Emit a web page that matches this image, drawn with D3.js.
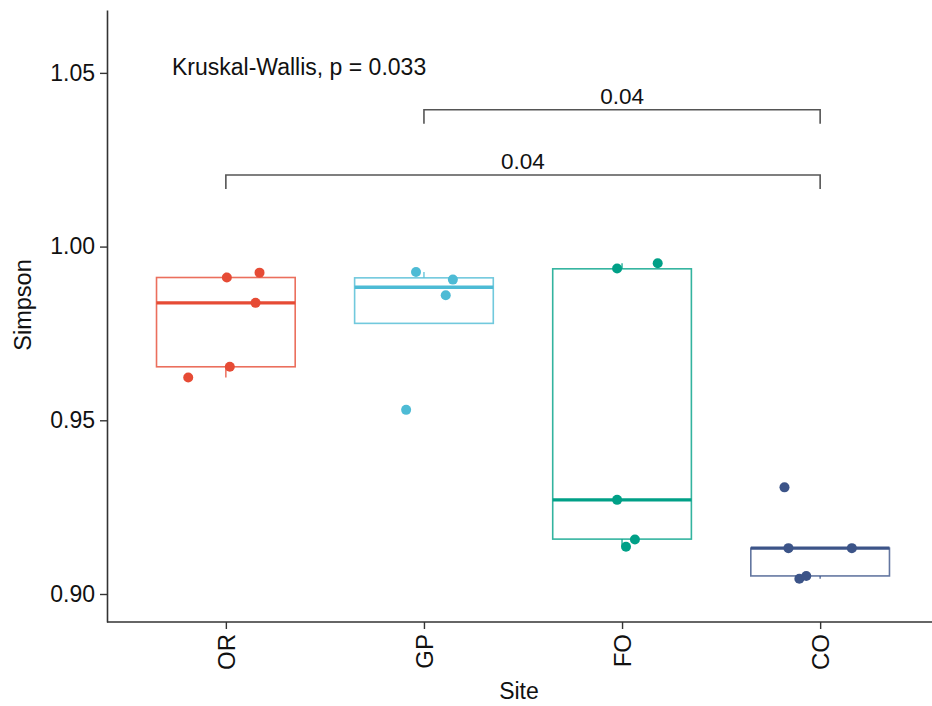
<!DOCTYPE html>
<html>
<head>
<meta charset="utf-8">
<script src="https://cdn.jsdelivr.net/npm/d3@7"></script>
<style>
  html, body { margin: 0; padding: 0; background: #fff; }
  svg { display: block; font-family: "Liberation Sans", Arial, sans-serif; }
</style>
</head>
<body>
<svg id="chart" width="932" height="706"></svg>
<script>
// ---- data ----
const sites = ["OR", "GP", "FO", "CO"];
const siteColors = ["#E64B35", "#4DBBD5", "#00A087", "#3C5488"];
const q1 = [0.9654, 0.9779, 0.9158, 0.9052];
const medians = [0.9838, 0.9883, 0.9271, 0.9132];
const q3 = [0.9911, 0.9910, 0.9936, 0.9132];
const whiskerLow = [0.9623, 0.9779, 0.9136, 0.9044];
const whiskerHigh = [0.9925, 0.9927, 0.9952, 0.9132];

const orValues = [0.9911, 0.9925, 0.9838, 0.9654, 0.9623];
const orJitter = [0.005, 0.17, 0.15, 0.02, -0.19];
const gpValues = [0.9927, 0.9905, 0.9860, 0.9530];
const gpJitter = [-0.04, 0.146, 0.11, -0.09];
const foValues = [0.9937, 0.9952, 0.9271, 0.9157, 0.9136];
const foJitter = [-0.025, 0.18, -0.025, 0.065, 0.02];
const coValues = [0.9307, 0.9132, 0.9132, 0.9044, 0.9052];
const coJitter = [-0.18, -0.16, 0.16, -0.105, -0.07];

const yTicks = [0.90, 0.95, 1.00, 1.05];
const comparisons = [
  { from: "GP", to: "CO", label: "0.04", level: 1.0394 },
  { from: "OR", to: "CO", label: "0.04", level: 1.0206 }
];
const globalTest = "Kruskal-Wallis, p = 0.033";
const xTitle = "Site";
const yTitle = "Simpson";

// ---- layout ----
const svg = d3.select("#chart");
const mLeft = 107, mTop = 10, mBottom = 622, mRightEnd = 939;

const x = d3.scalePoint().domain(sites).range([mLeft, mRightEnd]).padding(0.6);
const step = x.step();
const y = d3.scaleLinear().domain([0.89194, 1.0681]).range([mBottom, mTop]);

const points = [orValues, gpValues, foValues, coValues].map((vals, i) => {
  const jit = [orJitter, gpJitter, foJitter, coJitter][i];
  return vals.map((v, j) => ({ site: sites[i], color: siteColors[i], value: v, jitter: jit[j] }));
}).flat();

const boxes = sites.map((s, i) => ({
  site: s, color: siteColors[i], q1: q1[i], med: medians[i], q3: q3[i],
  lo: whiskerLow[i], hi: whiskerHigh[i]
}));

const boxW = step * 0.7;
const g = svg.append("g");

// whiskers
g.selectAll(".whisk-up").data(boxes).join("line")
  .attr("x1", d => x(d.site)).attr("x2", d => x(d.site))
  .attr("y1", d => y(d.q3)).attr("y2", d => y(d.hi))
  .attr("stroke", d => d.color).attr("stroke-width", 1.5).attr("stroke-opacity", 0.8);
g.selectAll(".whisk-lo").data(boxes).join("line")
  .attr("x1", d => x(d.site)).attr("x2", d => x(d.site))
  .attr("y1", d => y(d.q1)).attr("y2", d => y(d.lo))
  .attr("stroke", d => d.color).attr("stroke-width", 1.5).attr("stroke-opacity", 0.8);

// boxes
g.selectAll(".box").data(boxes).join("rect")
  .attr("x", d => x(d.site) - boxW / 2)
  .attr("width", boxW)
  .attr("y", d => y(d.q3))
  .attr("height", d => Math.max(0, y(d.q1) - y(d.q3)))
  .attr("fill", "#fff")
  .attr("stroke", d => d.color).attr("stroke-width", 1.6).attr("stroke-opacity", 0.8);

// medians
g.selectAll(".med").data(boxes).join("line")
  .attr("x1", d => x(d.site) - boxW / 2).attr("x2", d => x(d.site) + boxW / 2)
  .attr("y1", d => y(d.med)).attr("y2", d => y(d.med))
  .attr("stroke", d => d.color).attr("stroke-width", 3.4);

// jittered points
g.selectAll(".pt").data(points).join("circle")
  .attr("cx", d => x(d.site) + d.jitter * step)
  .attr("cy", d => y(d.value))
  .attr("r", 5)
  .attr("fill", d => d.color);

// axes
const yAxis = d3.axisLeft(y).tickValues(yTicks).tickFormat(d3.format(".2f"))
  .tickSize(7).tickSizeOuter(0).tickPadding(5);
const yg = svg.append("g").attr("transform", `translate(${mLeft},0)`).call(yAxis);
yg.select(".domain").attr("stroke", "#333").attr("stroke-width", 1.6);
yg.selectAll(".tick line").attr("stroke", "#333").attr("stroke-width", 1.4);
yg.selectAll(".tick text").attr("font-size", 23).attr("fill", "#111")
  .attr("font-family", "Liberation Sans, Arial, sans-serif");

const xAxis = d3.axisBottom(x).tickSize(7).tickSizeOuter(0).tickPadding(4);
const xg = svg.append("g").attr("transform", `translate(0,${mBottom})`).call(xAxis);
xg.select(".domain").attr("d", `M${mLeft},0H${mRightEnd}`)
  .attr("stroke", "#333").attr("stroke-width", 1.6);
xg.selectAll(".tick line").attr("stroke", "#333").attr("stroke-width", 1.4);
xg.selectAll(".tick text")
  .attr("font-size", 24).attr("fill", "#111")
  .attr("font-family", "Liberation Sans, Arial, sans-serif")
  .attr("transform", "rotate(-90)")
  .attr("text-anchor", "end")
  .attr("x", -12).attr("y", 0).attr("dy", "0.36em");

// axis titles
svg.append("text").attr("x", (mLeft + mRightEnd) / 2 - 4).attr("y", 699)
  .attr("text-anchor", "middle").attr("font-size", 23).attr("fill", "#111").text(xTitle);
svg.append("text").attr("transform", "translate(31,305) rotate(-90)")
  .attr("text-anchor", "middle").attr("font-size", 23.5).attr("fill", "#111").text(yTitle);

// Kruskal-Wallis label
svg.append("text").attr("x", 172).attr("y", 75)
  .attr("font-size", 23).attr("fill", "#111").text(globalTest);

// comparison brackets
const tickLen = 14;
comparisons.forEach(c => {
  const x1 = x(c.from), x2 = x(c.to), yy = y(c.level);
  svg.append("path")
    .attr("d", `M${x1},${yy + tickLen}V${yy}H${x2}V${yy + tickLen}`)
    .attr("fill", "none").attr("stroke", "#555").attr("stroke-width", 1.6);
  svg.append("text").attr("x", (x1 + x2) / 2).attr("y", yy - 6)
    .attr("text-anchor", "middle").attr("font-size", 22.5).attr("fill", "#111").text(c.label);
});
</script>
</body>
</html>
